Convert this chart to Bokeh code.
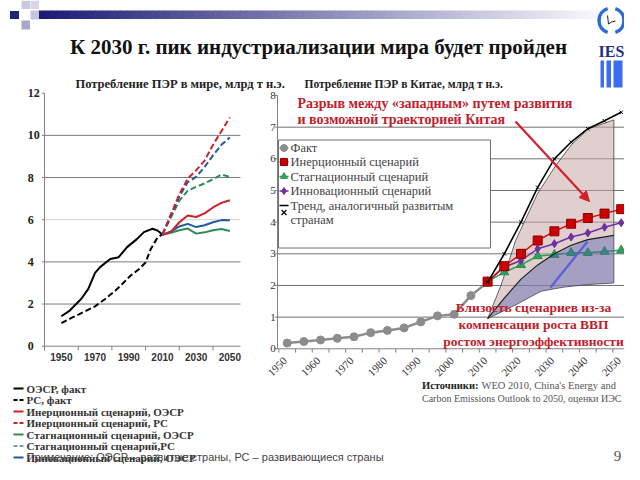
import numpy as np
from bokeh.plotting import figure
from bokeh.models import Range1d, Arrow, NormalHead
from bokeh.core.properties import value
from bokeh.embed import file_html
from bokeh.resources import INLINE

# ---------------- data: world primary energy (left chart), bn toe ----------------
oecd_years = [1950, 1955, 1962, 1966, 1970, 1973, 1979, 1984, 1989, 1995, 1999, 2004, 2007, 2010]
oecd_vals = [1.42, 1.69, 2.26, 2.72, 3.48, 3.75, 4.14, 4.22, 4.70, 5.09, 5.41, 5.57, 5.49, 5.30]
dev_years = [1950, 1956, 1963, 1970, 1976, 1982, 1986, 1991, 1996, 2000, 2003, 2007, 2010]
dev_vals = [1.09, 1.34, 1.61, 1.89, 2.24, 2.63, 2.94, 3.34, 3.65, 3.97, 4.60, 5.15, 5.31]
scen_years_w = [2010, 2015, 2020, 2025, 2030, 2035, 2040, 2045, 2050]
inert_dev = [5.30, 6.25, 7.20, 7.95, 8.34, 8.80, 9.55, 10.20, 10.85]
innov_dev = [5.30, 6.20, 7.10, 7.78, 8.03, 8.50, 9.05, 9.55, 9.90]
stag_dev = [5.30, 6.10, 6.90, 7.38, 7.56, 7.72, 7.92, 8.14, 8.03]
inert_oecd = [5.28, 5.42, 5.88, 6.20, 6.13, 6.30, 6.58, 6.80, 6.92]
innov_oecd = [5.28, 5.45, 5.68, 5.80, 5.65, 5.74, 5.88, 5.98, 5.97]
stag_oecd = [5.28, 5.38, 5.50, 5.58, 5.34, 5.40, 5.50, 5.56, 5.46]
w_yticks = [0, 2, 4, 6, 8, 10, 12]
w_xlabels = [1950, 1970, 1990, 2010, 2030, 2050]

# ---------------- data: China primary energy (right chart), bn toe ----------------
fact_years = [1950, 1955, 1960, 1965, 1970, 1975, 1980, 1985, 1990, 1995, 2000, 2005, 2010]
fact_vals = [0.18, 0.23, 0.28, 0.33, 0.38, 0.51, 0.58, 0.66, 0.85, 1.04, 1.09, 1.68, 2.10]
scen_years_c = [2010, 2015, 2020, 2025, 2030, 2035, 2040, 2045, 2050]
inert_c = [2.12, 2.61, 3.00, 3.42, 3.71, 3.95, 4.13, 4.27, 4.41]
innov_c = [2.12, 2.58, 2.79, 3.16, 3.32, 3.53, 3.66, 3.84, 3.98]
stag_c = [2.12, 2.42, 2.65, 2.93, 2.97, 3.03, 3.03, 3.07, 3.11]
trend_c = [2.10, 3.00, 4.00, 5.10, 6.00, 6.53, 6.95, 7.20, 7.47]
gap_top_years = [2010, 2014, 2018.4, 2024.9, 2030.4, 2035.3, 2040.3, 2047.8]
gap_top_vals = [0.95, 2.00, 3.42, 4.89, 5.79, 6.47, 6.95, 7.23]
close_top_years = [2010, 2015, 2020, 2025, 2030, 2035, 2040, 2047.8]
close_top_vals = [0.95, 1.60, 2.20, 2.65, 3.00, 3.27, 3.45, 3.58]
bottom_years = [2010, 2019, 2026, 2033, 2040, 2047.8]
bottom_vals = [0.95, 1.42, 1.82, 1.95, 2.03, 2.08]
c_yticks = [0, 1, 2, 3, 4, 5, 6, 7, 8]
c_xlabels = [1950, 1960, 1970, 1980, 1990, 2000, 2010, 2020, 2030, 2040, 2050]

SERIF = value("Liberation Serif")
SANS = value("Liberation Sans")
RED = "#d0202c"
BLUE = "#1f5a9c"
GREEN = "#2e8b57"
ANN = "#c0202a"

# canvas: data units == reference pixels
p = figure(width=624, height=464, x_range=Range1d(0, 624), y_range=Range1d(464, 0),
           output_backend="svg", toolbar_location=None, x_axis_type=None, y_axis_type=None,
           min_border=0, min_border_left=0, min_border_right=0, min_border_top=0, min_border_bottom=0)
p.outline_line_color = None
p.grid.visible = False
p.background_fill_color = "white"
p.border_fill_color = "white"

# ---------------- header decoration ----------------
n = 90
gx = np.linspace(38, 606, n + 1)
c0 = np.array([28, 28, 118]); c1 = np.array([250, 250, 253])
cols = []
for i in range(n):
    t = i / (n - 1)
    c = (c0 + (c1 - c0) * t).astype(int)
    cols.append("#%02x%02x%02x" % tuple(c))
p.quad(left=gx[:-1], right=gx[1:] + 0.6, top=10, bottom=18.5, fill_color=cols, line_color=None)
p.quad(left=[9.5, 21, 30, 21, 30], right=[18.5, 29.5, 38.5, 29.5, 38.5],
       top=[10.5, 0, 10, 20, 0], bottom=[18.5, 8.5, 19, 29, 8.5],
       fill_color=["#1c2478", "#c9c9de", "#c4c6e0", "#a6a9cc", "#d6d6e6"], line_color=None)

# logo
p.arc(x=[611, 611], y=[20, 20], radius=12.5, start_angle=[np.radians(-72), np.radians(108)],
      end_angle=[np.radians(72), np.radians(252)], line_color="#2a6cd0", line_width=3.5)
p.line(x=[607, 608, 611, 615], y=[15, 23.5, 21.5, 20.5], line_color="#222222", line_width=1)
p.text(x=[611], y=[51], text=["IES"], text_font=SERIF, text_font_style="bold", text_font_size="16px",
       text_align="center", text_baseline="middle", text_color="#1a2f80")
p.quad(left=[600, 606, 613], right=[603.5, 610.5, 622], top=[60, 60, 60], bottom=[87, 87, 87],
       fill_color="#3c6cf0", line_color=None)

# titles
p.text(x=[318], y=[46], text=["К 2030 г. пик индустриализации мира будет пройден"], text_font=SERIF,
       text_font_style="bold", text_font_size="21px", text_align="center", text_baseline="middle",
       text_color="#111111")
p.text(x=[75], y=[83], text=["Потребление ПЭР в мире, млрд т н.э."],
       text_font=SERIF, text_font_style="bold", text_font_size="12.5px", text_align="left",
       text_baseline="middle", text_color="#222222")
p.text(x=[304], y=[83], text=["Потребление ПЭР в Китае, млрд т н.э."],
       text_font=SERIF, text_font_style="bold", text_font_size="11.5px", text_align="left",
       text_baseline="middle", text_color="#222222")

# ---------------- left chart ----------------
sl = p.subplot(x_source=Range1d(1940, 2060), y_source=Range1d(0, 12),
               x_target=Range1d(44, 246.2), y_target=Range1d(345.7, 92.7))
for g in [2, 4, 8, 10]:
    sl.segment(x0=1940, x1=2056.3, y0=g, y1=g, line_color="#7a7a7a", line_width=1)
sl.segment(x0=1940, x1=2056.3, y0=6, y1=6, line_color="#d4d4d4", line_width=1)
sl.segment(x0=1940, x1=1940, y0=0, y1=12, line_color="#808080", line_width=1)
sl.segment(x0=1940, x1=2056.3, y0=0, y1=0, line_color="#808080", line_width=1)
sl.segment(x0=[1938.5] * len(w_yticks), x1=[1940] * len(w_yticks), y0=w_yticks, y1=w_yticks,
           line_color="#808080")
sl.segment(x0=[1940, 1960, 1980, 2000, 2020, 2040], x1=[1940, 1960, 1980, 2000, 2020, 2040],
           y0=0, y1=-0.2, line_color="#808080")
sl.text(x=[1930] * len(w_yticks), y=w_yticks, text=[str(v) for v in w_yticks], text_font=SERIF,
        text_font_style="bold", text_font_size="12px", text_align="left", text_baseline="middle",
        text_color="#222222")
sl.text(x=w_xlabels, y=[-0.5] * len(w_xlabels), text=[str(v) for v in w_xlabels], text_font=SANS,
        text_font_style="bold", text_font_size="10px", text_align="center", text_baseline="middle",
        text_color="#333333")

sl.line(oecd_years, oecd_vals, line_color="black", line_width=2)
sl.line(dev_years, dev_vals, line_color="black", line_width=2, line_dash="6 3")
sl.line(scen_years_w, stag_dev, line_color=GREEN, line_width=2, line_dash="6 3")
sl.line(scen_years_w, innov_dev, line_color=BLUE, line_width=2, line_dash="6 3")
sl.line(scen_years_w, inert_dev, line_color=RED, line_width=2, line_dash="6 3")
sl.line(scen_years_w, stag_oecd, line_color=GREEN, line_width=2)
sl.line(scen_years_w, innov_oecd, line_color=BLUE, line_width=2)
sl.line(scen_years_w, inert_oecd, line_color=RED, line_width=2)

# left legend
leg_y = [388, 399.5, 411, 422.5, 434, 445.5, 457]
leg_txt = ["ОЭСР, факт", "РС, факт", "Инерционный сценарий, ОЭСР", "Инерционный сценарий, РС",
           "Стагнационный сценарий, ОЭСР", "Стагнационный сценарий,РС", "Инновационный сценарий, ОЭСР"]
leg_col = ["black", "black", RED, RED, GREEN, "#7aa0a8", BLUE]
leg_dash = ["solid", "4 2", "solid", "4 2", "solid", "4 2", "solid"]
for yy, c, d in zip(leg_y, leg_col, leg_dash):
    p.line(x=[13, 23], y=[yy, yy], line_color=c, line_width=2, line_dash=d)
p.text(x=[26] * len(leg_y), y=leg_y, text=leg_txt, text_font=SERIF, text_font_style="bold",
       text_font_size="11px", text_align="left", text_baseline="middle", text_color="#333333")
p.text(x=[26], y=[456.5], text=["Примечание: ОЭСР – развитые страны, РС – развивающиеся страны"],
       text_font=SANS, text_font_size="11px", text_align="left", text_baseline="middle",
       text_color="#444444")

# ---------------- right chart ----------------
sr = p.subplot(x_source=Range1d(1950, 2050), y_source=Range1d(0, 8),
               x_target=Range1d(286.7, 620.7), y_target=Range1d(348.3, 95.0))
X0, X1 = 1947.1, 2053.4
for g in c_yticks[1:-1]:
    sr.segment(x0=X0, x1=X1, y0=g, y1=g, line_color="#707070", line_width=1)
sr.segment(x0=X0, x1=X0, y0=0, y1=8, line_color="#808080", line_width=1)
sr.segment(x0=X0, x1=X1, y0=0, y1=0, line_color="#808080", line_width=1)
tk = [1947.5 + 5 * i for i in range(22)]
sr.segment(x0=tk, x1=tk, y0=0, y1=-0.12, line_color="#808080")
sr.segment(x0=[X0 - 0.8] * len(c_yticks), x1=[X0] * len(c_yticks), y0=c_yticks, y1=c_yticks,
           line_color="#808080")
sr.text(x=[1946.6] * len(c_yticks), y=c_yticks, text=[str(v) for v in c_yticks], text_font=SERIF,
        text_font_size="11px", text_align="right", text_baseline="middle", text_color="#333333")
sr.text(x=[v - 0.6 for v in c_xlabels], y=[-0.32] * len(c_xlabels), text=[str(v) for v in c_xlabels],
        angle=np.pi / 4, text_font=SERIF, text_font_size="11px", text_align="right",
        text_baseline="middle", text_color="#333333")

# right legend box
p.quad(left=[278], right=[490], top=[139.5], bottom=[247.5], fill_color="white",
       line_color="#707070", line_width=1)
leg2_y = [147.5, 161.5, 176, 190.5, 205]
p.segment(x0=[279] * 5, x1=[288] * 5, y0=leg2_y, y1=leg2_y,
          line_color=["#8c8c8c", RED, GREEN, "#7030a0", "black"], line_width=1.5)
p.scatter(x=[283.5] * 4, y=leg2_y[:4], marker=["circle", "square", "triangle", "diamond"],
          size=[7, 7, 7, 7], fill_color=["#8c8c8c", "#cc0000", "#2ea060", "#7030a0"],
          line_color=["#8c8c8c", "#990000", "#2ea060", "#7030a0"])
p.scatter(x=[283.5], y=[212], marker="x", size=7, line_color="black", line_width=1.2)
p.text(x=[290] * 6, y=[147.5, 161.5, 176, 190.5, 205, 219.5],
       text=["Факт", "Инерционный сценарий", "Стагнационный сценарий", "Инновационный сценарий",
             "Тренд, аналогичный развитым", "странам"],
       text_font=SERIF, text_font_size="12.5px", text_align="left", text_baseline="middle",
       text_color="#444444")

# pink band (gap between trend and scenarios)
sr.patch(gap_top_years + bottom_years[::-1], gap_top_vals + bottom_vals[::-1],
         fill_color="#c8a8a8", fill_alpha=0.55, line_color="#404040", line_width=0.8)

# fact & scenarios
sr.line(fact_years, fact_vals, line_color="#8c8c8c", line_width=2.5)
sr.scatter(fact_years, fact_vals, marker="circle", size=8, fill_color="#8c8c8c", line_color="#8c8c8c")
sr.line(scen_years_c, stag_c, line_color="#2e9e55", line_width=1.5)
sr.scatter(scen_years_c, stag_c, marker="triangle", size=9, fill_color="#2ea060", line_color="#2a8a50")
sr.line(scen_years_c, innov_c, line_color="#7030a0", line_width=1.5)
sr.scatter(scen_years_c, innov_c, marker="diamond", size=8, fill_color="#7030a0", line_color="#7030a0")
sr.line(scen_years_c, inert_c, line_color="#dd1111", line_width=1.5)
sr.scatter(scen_years_c, inert_c, marker="square", size=9, fill_color="#cc0000", line_color="#8b0000")

# blue band (closeness of scenarios)
sr.patch(close_top_years + bottom_years[::-1], close_top_vals + bottom_vals[::-1],
         fill_color="#4a5ab0", fill_alpha=0.40, line_color=None)
sr.line(close_top_years, close_top_vals, line_color="#202020", line_width=1.2)

# trend
sr.line(scen_years_c, trend_c, line_color="black", line_width=1.6)
sr.scatter(scen_years_c, trend_c, marker="x", size=5, line_color="black")

# annotations
p.line(x=[550, 587], y=[287, 241], line_color="#5a5ae0", line_width=2.5, line_alpha=0.9)
p.add_layout(Arrow(end=NormalHead(size=10, fill_color=RED, line_color=RED),
                   x_start=515, y_start=121, x_end=589, y_end=201, line_color=RED, line_width=2.2))
p.text(x=[297, 297], y=[103, 119],
       text=["Разрыв между «западным» путем развития", "и возможной траекторией  Китая"],
       text_font=SERIF, text_font_style="bold", text_font_size="14px", text_align="left",
       text_baseline="middle", text_color=ANN)
p.text(x=[533, 533, 533], y=[307, 324, 341],
       text=["Близость сценариев из-за", "компенсации роста ВВП", "ростом энергоэффективности"],
       text_font=SERIF, text_font_style="bold", text_font_size="13.5px", text_align="center",
       text_baseline="middle", text_color=ANN)

# sources & page number
p.text(x=[421.5], y=[384.5], text=["Источники:"], text_font=SERIF, text_font_style="bold",
       text_font_size="10.5px", text_align="left", text_baseline="middle", text_color="#222222")
p.text(x=[481], y=[384.5], text=["WEO 2010, China's Energy and"],
       text_font=SERIF, text_font_size="10.5px", text_align="left", text_baseline="middle",
       text_color="#555555")
p.text(x=[421.5], y=[398], text=["Carbon Emissions Outlook to 2050, оценки ИЭС"],
       text_font=SERIF, text_font_size="10px", text_align="left", text_baseline="middle",
       text_color="#555555")
p.text(x=[617], y=[455], text=["9"], text_font=SERIF, text_font_size="15px", text_align="center",
       text_baseline="middle", text_color="#555555")

open("out.html", "w").write(file_html(p, INLINE))
